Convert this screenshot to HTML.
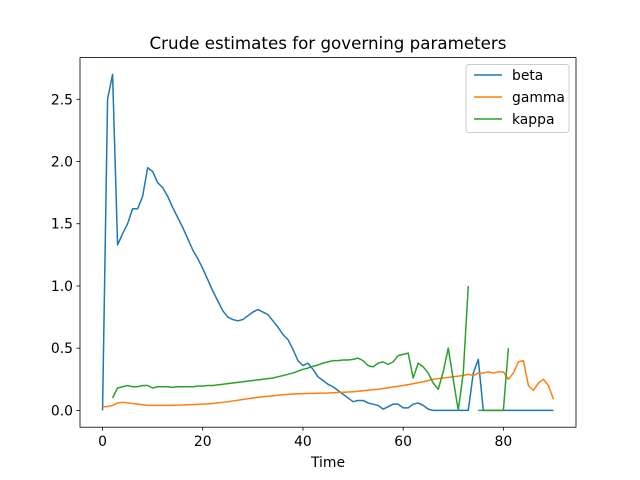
<!DOCTYPE html>
<html><head><meta charset="utf-8"><style>
body{margin:0;background:#fff}
svg{display:block;font-family:"DejaVu Sans","Liberation Sans",sans-serif}
</style></head><body>
<svg id="chart" width="640" height="480" xmlns="http://www.w3.org/2000/svg">
<rect width="640" height="480" fill="#fff"/>
<text x="328" y="49" text-anchor="middle" font-size="16.7">Crude estimates for governing parameters</text>
<g id="plot"></g>
<rect x="80" y="57.6" width="496" height="369.6" fill="none" stroke="#000" stroke-width="0.8"/>
<text x="328" y="467" text-anchor="middle" font-size="13.9">Time</text>
<g>
<rect x="466" y="64.5" width="103" height="68" fill="#fff" stroke="#ccc" rx="3"/>
<line x1="474" y1="75" x2="502" y2="75" stroke="#1f77b4" stroke-width="1.5"/>
<text x="512" y="80" font-size="13.9">beta</text>
<line x1="474" y1="97" x2="502" y2="97" stroke="#ff7f0e" stroke-width="1.5"/>
<text x="512" y="102" font-size="13.9">gamma</text>
<line x1="474" y1="119" x2="502" y2="119" stroke="#2ca02c" stroke-width="1.5"/>
<text x="512" y="124" font-size="13.9">kappa</text>
</g>
</svg>
<script>
const xTicks=[0,20,40,60,80];
const yTicks=[0,0.5,1.0,1.5,2.0,2.5];
const yTickLabels=["0.0","0.5","1.0","1.5","2.0","2.5"];
const beta=[0,2.5,2.7,1.33,1.42,1.5,1.62,1.62,1.72,1.95,1.92,1.83,1.79,1.72,1.63,1.55,1.47,1.38,1.29,1.22,1.14,1.05,0.96,0.88,0.80,0.75,0.73,0.72,0.73,0.76,0.79,0.81,0.79,0.77,0.72,0.67,0.61,0.57,0.49,0.40,0.36,0.38,0.33,0.27,0.24,0.21,0.19,0.16,0.13,0.10,0.07,0.08,0.08,0.06,0.05,0.04,0.01,0.03,0.05,0.05,0.02,0.02,0.05,0.06,0.04,0.01,0,0,0,0,0,0,0,0,0.3,0.41,0,0,0,0,0,0,0,0,0,0,0,0,0,0,0];
const gamma=[0.03,0.03,0.04,0.06,0.065,0.06,0.055,0.05,0.045,0.04,0.04,0.04,0.04,0.04,0.04,0.042,0.043,0.045,0.046,0.048,0.05,0.052,0.055,0.06,0.065,0.07,0.076,0.082,0.088,0.094,0.1,0.105,0.11,0.114,0.118,0.122,0.126,0.129,0.132,0.134,0.135,0.136,0.137,0.138,0.139,0.14,0.142,0.144,0.146,0.148,0.15,0.154,0.158,0.162,0.166,0.17,0.176,0.182,0.188,0.194,0.2,0.207,0.214,0.222,0.23,0.24,0.25,0.255,0.26,0.265,0.27,0.275,0.28,0.29,0.28,0.3,0.3,0.31,0.3,0.31,0.31,0.25,0.3,0.39,0.4,0.2,0.16,0.22,0.25,0.2,0.09];
const kappa=[null,null,0.1,0.18,0.19,0.2,0.19,0.19,0.2,0.2,0.18,0.19,0.19,0.19,0.185,0.19,0.19,0.19,0.19,0.195,0.195,0.2,0.2,0.205,0.21,0.215,0.22,0.225,0.23,0.235,0.24,0.245,0.25,0.255,0.26,0.27,0.28,0.29,0.3,0.315,0.33,0.34,0.355,0.365,0.38,0.39,0.4,0.4,0.405,0.405,0.41,0.42,0.4,0.36,0.35,0.38,0.39,0.37,0.39,0.44,0.45,0.46,0.26,0.38,0.35,0.3,0.22,0.17,0.31,0.5,0.25,0,0.3,1.0,null,0,0,0,0,0,0,0.5,null,null,null,null,null,null,null,null,null];
const X=v=>80+(v+4.5)*496/99;
const Y=v=>427.2-(v+0.135)*369.6/2.97;
const NS="http://www.w3.org/2000/svg";
const svg=document.getElementById('chart');
const plot=document.getElementById('plot');
function mk(t,a,p){const e=document.createElementNS(NS,t);for(const k in a)e.setAttribute(k,a[k]);(p||svg).appendChild(e);return e;}
xTicks.forEach(t=>{
 const l=mk('line',{x1:X(t),x2:X(t),y1:427.2,y2:430.7,stroke:'#000','stroke-width':0.8});
 
 
 const tx=mk('text',{x:X(t),y:446,'text-anchor':'middle','font-size':13.9});tx.textContent=t;
 
 
});
yTicks.forEach((t,i)=>{
 const l=mk('line',{x1:76.5,x2:80,y1:Y(t),y2:Y(t),stroke:'#000','stroke-width':0.8});
 
 
 const tx=mk('text',{x:73,y:Y(t)+5,'text-anchor':'end','font-size':13.9});tx.textContent=yTickLabels[i];
 
 
});
function series(arr,color,name){
 let d='',pen=false;
 arr.forEach((v,i)=>{if(v===null){pen=false;return;}d+=(pen?'L':'M')+X(i).toFixed(2)+' '+Y(v).toFixed(2);pen=true;});
 const p=mk('path',{d:d,fill:'none',stroke:color,'stroke-width':1.5,'stroke-linejoin':'round'},plot);
 
 
}
series(beta,'#1f77b4','beta-line');
series(gamma,'#ff7f0e','gamma-line');
series(kappa,'#2ca02c','kappa-line');
</script>
</body></html>
